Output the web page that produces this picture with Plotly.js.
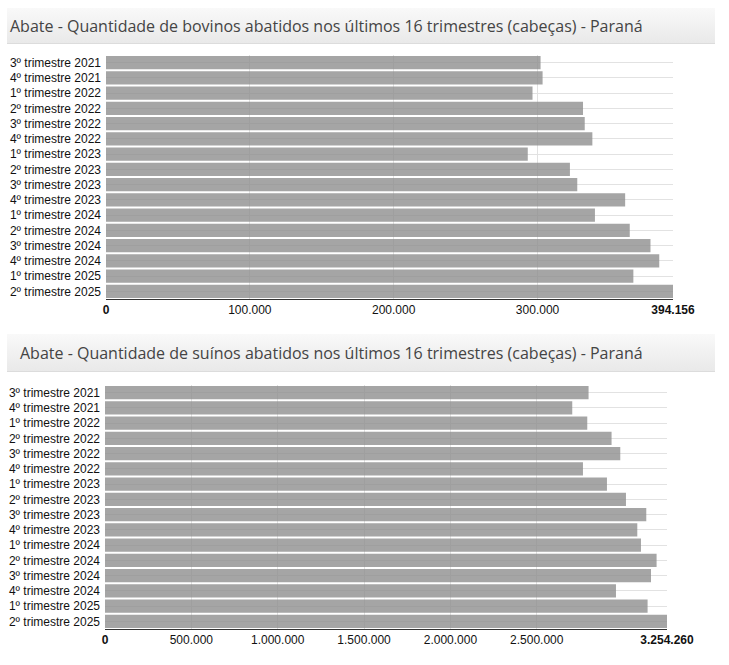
<!DOCTYPE html>
<html>
<head>
<meta charset="utf-8">
<script src="https://cdn.plot.ly/plotly-3.0.1.min.js"></script>
<style>
  html, body { margin: 0; padding: 0; background: #fff; }
  body { width: 729px; height: 665px; position: relative; overflow: hidden; }
  .head {
    position: absolute;
    left: 7px;
    width: 708px;
    box-sizing: border-box;
    background: linear-gradient(#f9f9f9, #e9e9e9);
    border-bottom: 1px solid #dcdcdc;
    color: #444;
    font: 16px "Open Sans", sans-serif;
    white-space: nowrap;
  }
  .chart { position: absolute; left: 0; width: 729px; }
</style>
</head>
<body>
<div class="head" id="head1" style="top: 8px; height: 36px; line-height: 36px; padding-left: 3px;"></div>
<div class="chart" id="bovinos" style="top: 44px; height: 290px;"></div>
<div class="head" id="head2" style="top: 334px; height: 38px; line-height: 38px; padding-left: 13px;"></div>
<div class="chart" id="suinos" style="top: 372px; height: 293px;"></div>

<script>
const trimestres = [
  "3º trimestre 2021", "4º trimestre 2021",
  "1º trimestre 2022", "2º trimestre 2022", "3º trimestre 2022", "4º trimestre 2022",
  "1º trimestre 2023", "2º trimestre 2023", "3º trimestre 2023", "4º trimestre 2023",
  "1º trimestre 2024", "2º trimestre 2024", "3º trimestre 2024", "4º trimestre 2024",
  "1º trimestre 2025", "2º trimestre 2025",
];

const bovinos = [
  302100, 303500,
  296500, 331600, 332800, 338100,
  293200, 322500, 327600, 360900,
  339900, 364100, 378500, 384600,
  366600, 394156,
];

const suinos = [
  2800100, 2705600,
  2792500, 2933300, 2983700, 2767600,
  2906600, 3016700, 3134300, 3082200,
  3103600, 3194000, 3161600, 2958800,
  3141900, 3254260,
];

const bovinosTicks = [0, 100000, 200000, 300000, 394156];
const suinosTicks = [0, 500000, 1000000, 1500000, 2000000, 2500000, 3254260];

const titulos = [
  "Abate - Quantidade de bovinos abatidos nos últimos 16 trimestres (cabeças) - Paraná",
  "Abate - Quantidade de suínos abatidos nos últimos 16 trimestres (cabeças) - Paraná",
];

document.getElementById("head1").textContent = titulos[0];
document.getElementById("head2").textContent = titulos[1];

// 1234567 -> "1.234.567"
const fmt = (n) => String(n).replace(/\B(?=(\d{3})+(?!\d))/g, ".");

function drawBars(id, values, ticks, margin) {
  const max = ticks[ticks.length - 1];
  const ticktext = ticks.map((t, i) =>
    i === 0 || i === ticks.length - 1 ? `<b>${fmt(t)}</b>` : fmt(t)
  );

  Plotly.newPlot(
    id,
    [
      {
        type: "bar",
        orientation: "h",
        x: values,
        y: trimestres,
        marker: { color: "rgba(142,142,142,0.8)", line: { width: 0 } },
        hoverinfo: "none",
      },
    ],
    {
      bargap: 0.14,
      margin,
      paper_bgcolor: "#fff",
      plot_bgcolor: "#fff",
      showlegend: false,
      font: { family: "Liberation Sans, Arial, sans-serif", size: 12, color: "#111" },
      xaxis: {
        range: [0, max],
        tickvals: ticks,
        ticktext,
        showgrid: true,
        gridcolor: "#e2e2e2",
        gridwidth: 1,
        zeroline: false,
        showline: true,
        linecolor: "#333",
        linewidth: 1,
        ticks: "",
        fixedrange: true,
      },
      yaxis: {
        type: "category",
        categoryorder: "array",
        categoryarray: trimestres,
        autorange: "reversed",
        showgrid: true,
        gridcolor: "#e2e2e2",
        gridwidth: 1,
        zeroline: false,
        showline: false,
        ticks: "",
        ticklabelstandoff: 4,
        fixedrange: true,
      },
    },
    { displayModeBar: false, staticPlot: true }
  );
}

drawBars("bovinos", bovinos, bovinosTicks, { l: 106, r: 56, t: 11, b: 35, pad: 0 });
drawBars("suinos", suinos, suinosTicks, { l: 105, r: 62, t: 13, b: 36, pad: 0 });
</script>
</body>
</html>
